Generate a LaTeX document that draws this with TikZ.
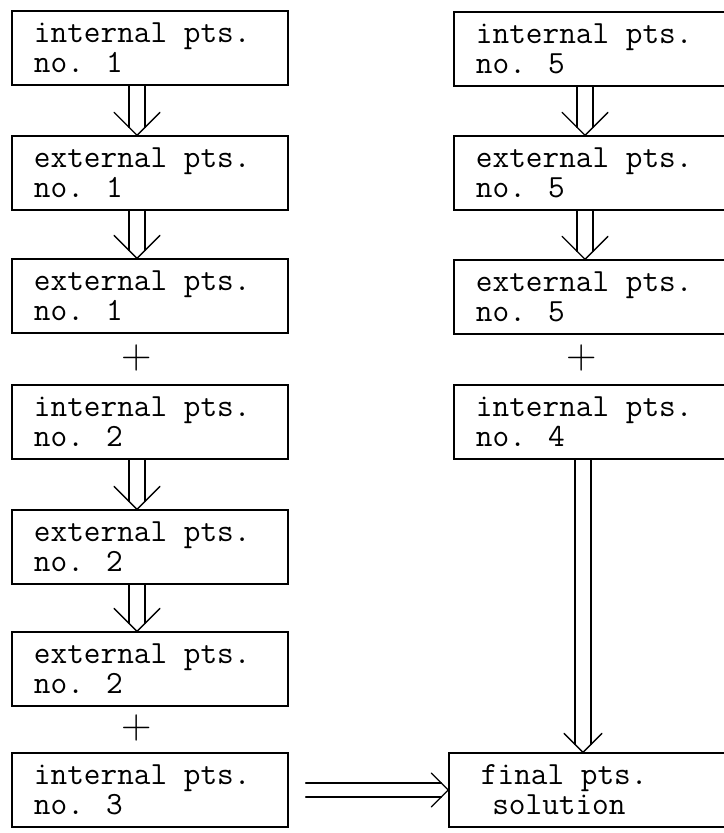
\documentclass[tikz,border=0pt]{standalone}
\usepackage{fontspec}
\usepackage{tikz}

\tikzset{
  ptsbox/.style={draw, rectangle, line width=0.9pt, minimum height=1.85cm,
    inner xsep=0.55cm, text width=5.8cm, align=flush left,
    font=\ttfamily\fontsize{23}{21.3}\selectfont},
  finalbox/.style={ptsbox, inner xsep=0.8cm, text width=5.3cm},
  plus/.style={inner sep=0pt, font=\rmfamily\fontsize{30}{30}\selectfont},
  arr/.style={line width=0.9pt, line cap=round, line join=round}
}

% double shaft arrow going down: [head size] from, to, x offset of the tip
\newcommand{\dbldown}[4][23]{%
  \coordinate (tip) at ([shift={(#4,0)}]#3.north);
  \coordinate (tail) at (tip |- #2.south);
  \draw[arr] ([shift={(-8,0)}]tail) -- ([shift={(-8,-8)}]tip);
  \draw[arr] ([shift={(8,0)}]tail) -- ([shift={(8,-8)}]tip);
  \draw[arr] ([shift={(-#1,-#1)}]tip) -- (tip) -- ([shift={(#1,-#1)}]tip);
}
% double shaft arrow going right
\newcommand{\dblright}[3][17]{%
  \coordinate (tip) at (#3.west);
  \coordinate (tail) at ([shift={(17,0)}]#2.east);
  \draw[arr] ([shift={(0,-7)}]tail) -- ([shift={(-7,-7)}]tip);
  \draw[arr] ([shift={(0,7)}]tail) -- ([shift={(-7,7)}]tip);
  \draw[arr] ([shift={(-#1,-#1)}]tip) -- (tip) -- ([shift={(-#1,#1)}]tip);
}

\begin{document}
\begin{tikzpicture}[x=0.025cm, y=-0.025cm]
\useasboundingbox (0,0) rectangle (723,833);

% left column
\node[ptsbox] (int1) at (150,48) {internal pts.\\no. 1};
\node[ptsbox] (ext1a) at (150,173) {external pts.\\no. 1};
\node[ptsbox] (ext1b) at (150,296) {external pts.\\no. 1};
\node[plus] (plus1) at (137,358) {+};
\node[ptsbox] (int2) at (150,422) {internal pts.\\no. 2};
\node[ptsbox] (ext2a) at (150,547) {external pts.\\no. 2};
\node[ptsbox] (ext2b) at (150,669) {external pts.\\no. 2};
\node[plus] (plus2) at (137,728) {+};
\node[ptsbox] (int3) at (150,790) {internal pts.\\no. 3};

% right column
\node[ptsbox] (int5) at (592,49) {internal pts.\\no. 5};
\node[ptsbox] (ext5a) at (592,173) {external pts.\\no. 5};
\node[ptsbox] (ext5b) at (592,297) {external pts.\\no. 5};
\node[plus] (plus3) at (582,358) {+};
\node[ptsbox] (int4) at (592,422) {internal pts.\\no. 4};
\node[finalbox] (final) at (587,790) {final pts.\\\hspace*{0.35em}solution};

\dbldown{int1}{ext1a}{-13}
\dbldown{ext1a}{ext1b}{-13}
\dbldown{int2}{ext2a}{-13}
\dbldown{ext2a}{ext2b}{-13}
\dbldown{int5}{ext5a}{-7}
\dbldown{ext5a}{ext5b}{-7}
\dbldown[19]{int4}{final}{-4}
\dblright{int3}{final}
\end{tikzpicture}
\end{document}
